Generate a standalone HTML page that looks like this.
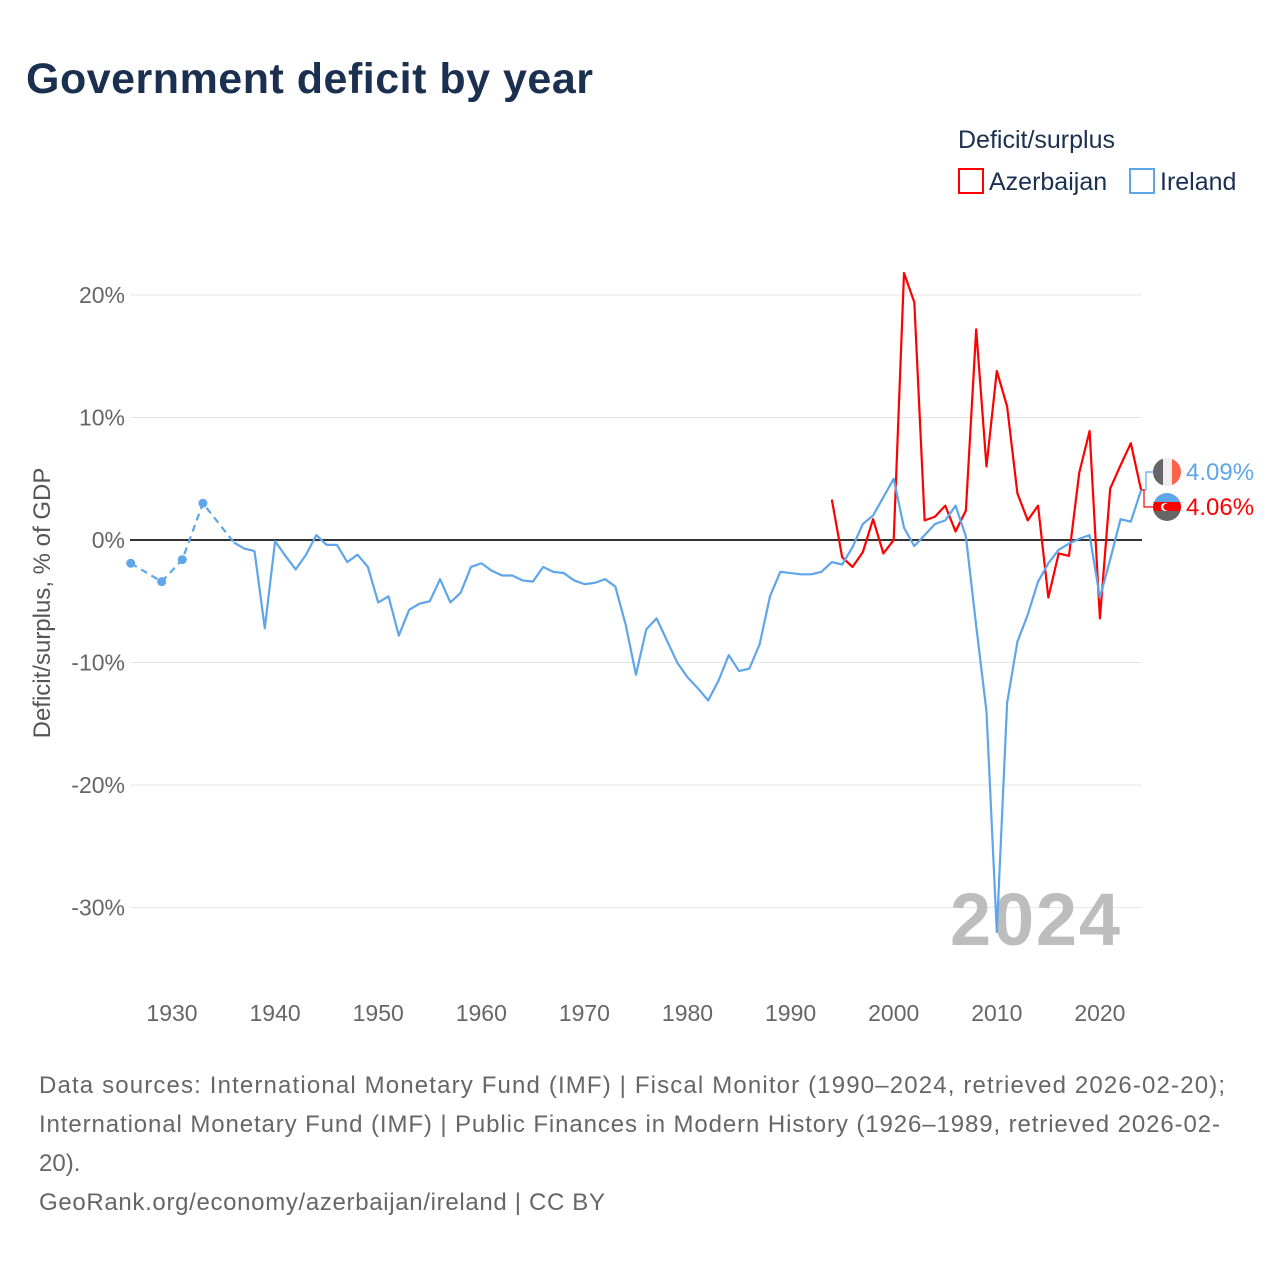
<!DOCTYPE html>
<html><head><meta charset="utf-8"><style>
body{margin:0;background:#fff;width:1280px;height:1280px;overflow:hidden;font-family:"Liberation Sans",sans-serif}
</style></head><body>
<svg width="1280" height="1280" xmlns="http://www.w3.org/2000/svg">
<text x="26" y="93" font-size="43" font-weight="bold" fill="#1b3050" textLength="567">Government deficit by year</text>
<text x="958" y="148" font-size="25" fill="#1b3050">Deficit/surplus</text>
<g><rect x="959" y="169" width="24" height="24" fill="none" stroke="#ff0000" stroke-width="2"/><text x="989" y="190" font-size="25" fill="#1b3050">Azerbaijan</text></g>
<g><rect x="1130" y="169" width="24" height="24" fill="none" stroke="#5ea5ea" stroke-width="2"/><text x="1160" y="190" font-size="25" fill="#1b3050">Ireland</text></g>
<g id="grid"></g>
<text x="950" y="945" font-size="74" font-weight="bold" fill="#bdbdbd" textLength="170">2024</text>
<g id="marks"></g>
<text transform="translate(50,603) rotate(-90)" text-anchor="middle" font-size="24" fill="#555">Deficit/surplus, % of GDP</text>
<g>
<polyline points="1142,490 1146,490 1146,472 1153,472" fill="none" stroke="#5ea5ea" stroke-width="1.2"/>
<polyline points="1142,490 1144,490 1144,507 1153,507" fill="none" stroke="#ff0000" stroke-width="1.2"/>
<clipPath id="c1"><circle cx="1167" cy="472" r="14"/></clipPath>
<g clip-path="url(#c1)"><rect x="1153" y="458" width="10" height="28" fill="#666"/><rect x="1163" y="458" width="9" height="28" fill="#eee"/><rect x="1172" y="458" width="10" height="28" fill="#ff6347"/></g>
<clipPath id="c2"><circle cx="1167" cy="507" r="14"/></clipPath>
<g clip-path="url(#c2)"><rect x="1153" y="493" width="28" height="10" fill="#5ea5ea"/><rect x="1153" y="502" width="28" height="10" fill="#ff0000"/><rect x="1153" y="511" width="28" height="10" fill="#666"/><circle cx="1165" cy="507" r="4" fill="#fff"/><circle cx="1166.5" cy="507" r="3.2" fill="#ff0000"/></g>
<text x="1186" y="480" font-size="24" fill="#5ea5ea">4.09%</text>
<text x="1186" y="515" font-size="24" fill="#ff0000">4.06%</text>
</g>
<g font-size="24" fill="#666">
<text x="39" y="1093" textLength="1186">Data sources: International Monetary Fund (IMF) | Fiscal Monitor (1990–2024, retrieved 2026-02-20);</text>
<text x="39" y="1132" textLength="1181">International Monetary Fund (IMF) | Public Finances in Modern History (1926–1989, retrieved 2026-02-</text>
<text x="39" y="1171">20).</text>
<text x="39" y="1210" textLength="566">GeoRank.org/economy/azerbaijan/ireland | CC BY</text>
</g>
</svg>
<script>
const yTicks=[20,10,0,-10,-20,-30];
const xTicks=[1930,1940,1950,1960,1970,1980,1990,2000,2010,2020];
const irlDashedYears=[1926,1929,1931,1933,1936];
const irlDashedVals=[-1.9,-3.4,-1.6,3.0,-0.2];
const irlYears=[1936,1937,1938,1939,1940,1941,1942,1943,1944,1945,1946,1947,1948,1949,1950,1951,1952,1953,1954,1955,1956,1957,1958,1959,1960,1961,1962,1963,1964,1965,1966,1967,1968,1969,1970,1971,1972,1973,1974,1975,1976,1977,1978,1979,1980,1981,1982,1983,1984,1985,1986,1987,1988,1989,1990,1991,1992,1993,1994,1995,1996,1997,1998,1999,2000,2001,2002,2003,2004,2005,2006,2007,2008,2009,2010,2011,2012,2013,2014,2015,2016,2017,2018,2019,2020,2021,2022,2023,2024];
const irlVals=[-0.2,-0.7,-0.9,-7.2,-0.1,-1.3,-2.4,-1.2,0.4,-0.4,-0.4,-1.8,-1.2,-2.2,-5.1,-4.6,-7.8,-5.7,-5.2,-5.0,-3.2,-5.1,-4.3,-2.2,-1.9,-2.5,-2.9,-2.9,-3.3,-3.4,-2.2,-2.6,-2.7,-3.3,-3.6,-3.5,-3.2,-3.8,-6.9,-11.0,-7.3,-6.4,-8.2,-10.0,-11.2,-12.1,-13.1,-11.5,-9.4,-10.7,-10.5,-8.5,-4.6,-2.6,-2.7,-2.8,-2.8,-2.6,-1.8,-2.0,-0.6,1.3,2.0,3.5,5.0,1.0,-0.5,0.4,1.3,1.6,2.8,0.3,-7.0,-14.0,-32.0,-13.3,-8.3,-6.1,-3.4,-1.9,-0.8,-0.3,0.1,0.4,-4.7,-1.6,1.7,1.5,4.09];
const azeYears=[1994,1995,1996,1997,1998,1999,2000,2001,2002,2003,2004,2005,2006,2007,2008,2009,2010,2011,2012,2013,2014,2015,2016,2017,2018,2019,2020,2021,2022,2023,2024];
const azeVals=[3.3,-1.4,-2.2,-1.0,1.7,-1.1,0.0,21.8,19.4,1.6,1.9,2.8,0.7,2.4,17.2,6.0,13.8,10.9,3.8,1.6,2.8,-4.7,-1.1,-1.3,5.5,8.9,-6.4,4.2,6.1,7.9,4.06];
const NS="http://www.w3.org/2000/svg";
const X=y=>172+(y-1930)*10.31;
const Y=v=>540-v*12.25;
const grid=document.getElementById('grid'),marks=document.getElementById('marks');
function mk(tag,attrs,parent){const e=document.createElementNS(NS,tag);for(const k in attrs)e.setAttribute(k,attrs[k]);parent.appendChild(e);return e;}
yTicks.forEach(t=>{
  if(t!==0){const l=mk('line',{x1:130,x2:1142,y1:Y(t),y2:Y(t),stroke:'#e6e6e6','stroke-width':1},grid);
  
  }
  const tx=mk('text',{x:125,y:Y(t)+8,'text-anchor':'end','font-size':23,fill:'#666'},grid);
  tx.textContent=t+'%';
  
  
});
xTicks.forEach(t=>{
  const tx=mk('text',{x:X(t),y:1021,'text-anchor':'middle','font-size':23,fill:'#666'},grid);
  tx.textContent=t;
  
  
});
const zl=mk('line',{x1:130,x2:1142,y1:Y(0),y2:Y(0),stroke:'#333','stroke-width':2},marks);


function pts(ys,vs){return ys.map((y,i)=>X(y)+','+Y(vs[i])).join(' ');}
const d=mk('polyline',{points:pts(irlDashedYears,irlDashedVals),fill:'none',stroke:'#5ea5ea','stroke-width':2.2,'stroke-dasharray':'7,5'},marks);


irlDashedYears.slice(0,4).forEach((y,i)=>{
  const c=mk('circle',{cx:X(y),cy:Y(irlDashedVals[i]),r:4.5,fill:'#5ea5ea'},marks);
  
  
});
const a=mk('polyline',{points:pts(azeYears,azeVals),fill:'none',stroke:'#ff0000','stroke-width':2.2,'stroke-linejoin':'round'},marks);


const r=mk('polyline',{points:pts(irlYears,irlVals),fill:'none',stroke:'#5ea5ea','stroke-width':2.2,'stroke-linejoin':'round'},marks);


</script>
</body></html>
